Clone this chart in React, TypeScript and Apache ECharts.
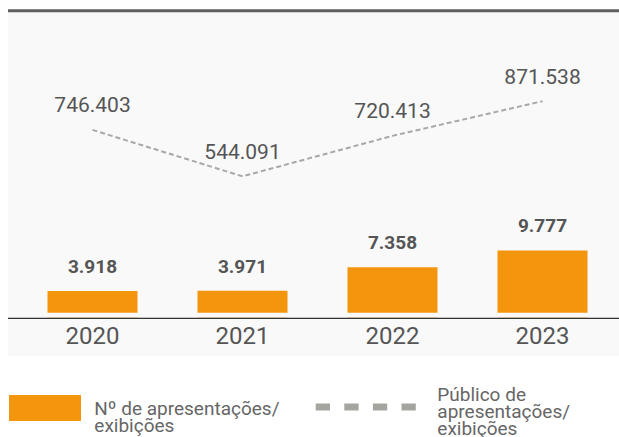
import React, { useEffect, useRef } from "react";
import * as echarts from "echarts";

const categories = ["2020", "2021", "2022", "2023"];
const apresentacoes = [3918, 3971, 7358, 9777];
const publico = [746403, 544091, 720413, 871538];
const legendBar = "Nº de apresentações/\nexibições";
const legendLine = "Público de\napresentações/\nexibições";

const FONT = "Roboto, 'Liberation Sans', sans-serif";
const fmt = (v: number) => String(v).replace(/\B(?=(\d{3})+(?!\d))/g, ".");

export default function App() {
  const ref = useRef<HTMLDivElement>(null);
  useEffect(() => {
    if (!ref.current) return;
    const chart = echarts.init(ref.current, undefined, { renderer: "svg" });
    chart.setOption({
      animation: false,
      textStyle: { fontFamily: FONT },
      grid: { left: 17.5, right: 1.5, top: 30, bottom: 118.7, containLabel: false },
      xAxis: {
        type: "category",
        data: categories,
        axisLine: { show: false },
        axisTick: { show: false },
        axisLabel: { color: "#555555", fontSize: 24, margin: 6, fontFamily: FONT },
      },
      yAxis: [
        { type: "value", min: 0, max: 41500, show: false, splitLine: { show: false } },
        { type: "value", min: -74500, max: 1181700, show: false, splitLine: { show: false } },
      ],
      graphic: [
        { type: "rect", z: -10, silent: true, shape: { x: 8, y: 12, width: 611, height: 344 }, style: { fill: "#f9f9f9" } },
        { type: "rect", z: 10, silent: true, shape: { x: 8, y: 9.3, width: 611, height: 3 }, style: { fill: "#5f5f5f" } },
        { type: "rect", z: 10, silent: true, shape: { x: 8, y: 312.8, width: 611, height: 5 }, style: { fill: "#f9f9f9" } },
        { type: "line", z: 11, silent: true, shape: { x1: 8, y1: 318.3, x2: 619, y2: 318.3 }, style: { stroke: "#333333", lineWidth: 1.2 } },
        { type: "rect", silent: true, shape: { x: 9, y: 395, width: 72, height: 26 }, style: { fill: "#F3960E" } },
        {
          type: "text", silent: true, x: 94.3, y: 400,
          style: { text: legendBar, fontSize: 19, lineHeight: 17, fill: "#666666", fontFamily: FONT, verticalAlign: "top", align: "left" },
        },
        {
          type: "line", silent: true, shape: { x1: 315.7, y1: 407, x2: 416, y2: 407 },
          style: { stroke: "#a5a5a0", lineWidth: 7, lineDash: [14.3, 14.3] },
        },
        {
          type: "text", silent: true, x: 437.3, y: 385.7,
          style: { text: legendLine, fontSize: 19, lineHeight: 17, fill: "#666666", fontFamily: FONT, verticalAlign: "top", align: "left" },
        },
      ],
      series: [
        {
          type: "bar",
          name: "Nº de apresentações/exibições",
          data: apresentacoes,
          yAxisIndex: 0,
          barWidth: 90,
          itemStyle: { color: "#F3960E" },
          label: {
            show: true,
            position: "top",
            distance: 15,
            fontSize: 19,
            fontWeight: "bold",
            color: "#555555",
            fontFamily: FONT,
            formatter: (p: any) => fmt(p.value),
          },
        },
        {
          type: "line",
          name: "Público de apresentações/exibições",
          data: publico,
          yAxisIndex: 1,
          symbol: "circle",
          symbolSize: 0,
          showSymbol: true,
          itemStyle: { color: "#a8a8a5" },
          lineStyle: { color: "#a8a8a5", width: 2, type: [5, 3] },
          label: {
            show: true,
            position: "top",
            distance: 14,
            fontSize: 21,
            color: "#555555",
            fontFamily: FONT,
            formatter: (p: any) => fmt(p.value),
          },
          z: 5,
        },
      ],
    });
    return () => chart.dispose();
  }, []);
  return (
    <div
      ref={ref}
      style={{ position: "fixed", left: 0, top: 0, width: 619, height: 437, background: "#ffffff" }}
    />
  );
}
